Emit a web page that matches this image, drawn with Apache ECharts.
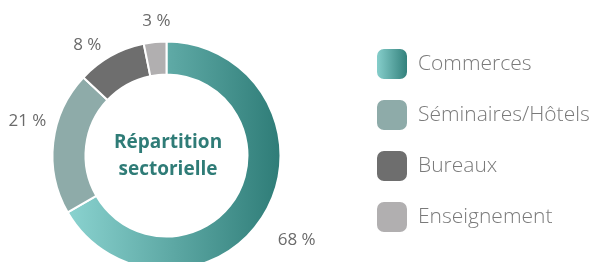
<!DOCTYPE html>
<html>
<head>
<meta charset="utf-8">
<script src="https://cdn.jsdelivr.net/npm/echarts@6/dist/echarts.min.js"></script>
<style>
html,body{margin:0;padding:0;background:#fff;}
#chart{width:597px;height:262px;}
</style>
</head>
<body>
<div id="chart"></div>
<script>
// Data
var categories = ['Commerces', 'Séminaires/Hôtels', 'Bureaux', 'Enseignement'];
// slice shares as drawn in the picture
var values = [66.7, 20.3, 9.8, 3.2];
// percentage labels as printed next to the slices
var pctLabels = ['68 %', '21 %', '8 %', '3 %'];
var centerTitle = 'Répartition\nsectorielle';

// Styles (kept apart from the data)
var palette = [
  new echarts.graphic.LinearGradient(0, 0, 1, 0, [
    {offset: 0, color: '#8bd3d0'},
    {offset: 1, color: '#2e7c77'}
  ]),
  '#8eaba9',
  '#6e6e6e',
  '#b1afb0'
];
var labelNudge = [[9, 15], [0, -18], [-11, 12], [4, 5]];

var data = categories.map(function (c, i) {
  return {name: c, value: values[i], itemStyle: {color: palette[i]}};
});

var chart = echarts.init(document.getElementById('chart'), null, {renderer: 'canvas'});
chart.setOption({
  animation: false,
  backgroundColor: '#ffffff',
  title: {
    text: centerTitle,
    left: 168,
    top: 129,
    padding: 0,
    textAlign: 'center',
    textStyle: {
      fontFamily: 'Open Sans',
      fontWeight: 'bold',
      fontSize: 19,
      lineHeight: 27,
      color: '#2f7c77'
    }
  },
  legend: {
    orient: 'vertical',
    left: 370,
    top: 42,
    itemWidth: 32,
    itemHeight: 32,
    itemGap: 17,
    icon: 'roundRect',
    data: categories,
    textStyle: {
      fontFamily: 'Open Sans',
      fontWeight: 300,
      fontSize: 21,
      color: '#7a7a7a',
      padding: [0, 0, 0, 5]
    }
  },
  series: [{
    type: 'pie',
    center: [166.5, 155.5],
    radius: [81, 114],
    startAngle: 90,
    clockwise: true,
    avoidLabelOverlap: false,
    itemStyle: {borderColor: '#ffffff', borderWidth: 2},
    label: {
      show: true,
      position: 'outside',
      formatter: function (p) { return pctLabels[p.dataIndex]; },
      fontFamily: 'Open Sans',
      fontSize: 17,
      fontWeight: 500,
      color: '#6a6a6a'
    },
    labelLine: {show: true, length: 26, length2: 0, lineStyle: {opacity: 0}},
    labelLayout: function (p) {
      var pts = p.labelLinePoints;
      if (!pts) { return {}; }
      var b = pts[1];
      var n = labelNudge[p.dataIndex];
      return {
        x: b[0] + n[0],
        y: b[1] + n[1],
        align: 'center',
        verticalAlign: 'middle'
      };
    },
    emphasis: {disabled: true},
    data: data
  }]
});
</script>
</body>
</html>
